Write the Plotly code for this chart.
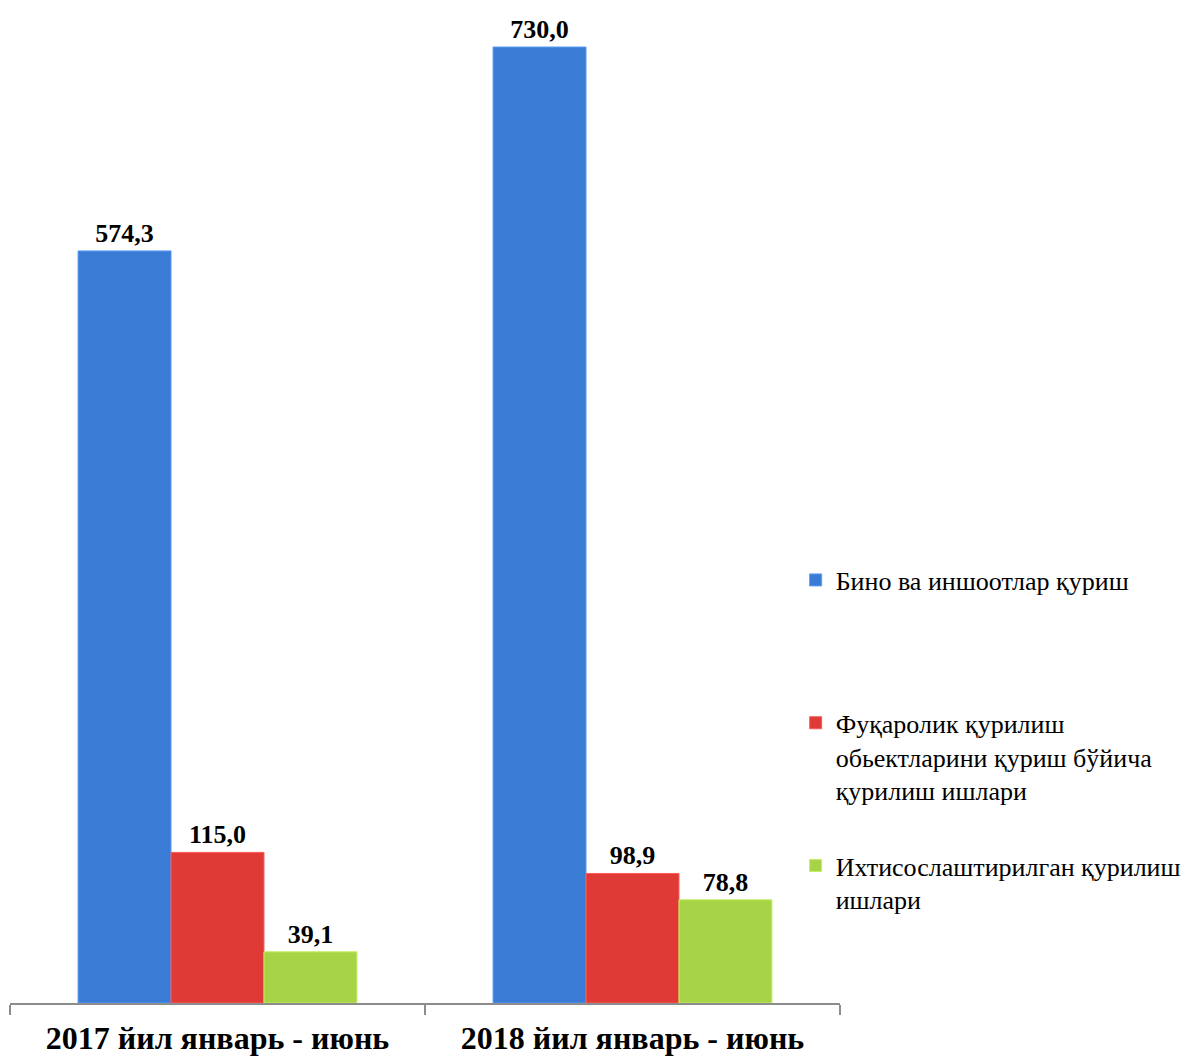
import plotly.graph_objects as go

categories = ["2017 йил январь - июнь", "2018 йил январь - июнь"]
series_names = [
    "Бино ва иншоотлар қуриш",
    "Фуқаролик қурилиш<br>обьектларини қуриш бўйича<br>қурилиш ишлари",
    "Ихтисослаштирилган қурилиш<br>ишлари",
]
bino = [574.3, 730.0]
fuqarolik = [115.0, 98.9]
ixtisos = [39.1, 78.8]

colors = ["#3a7bd5", "#e03a36", "#a6d446"]
edge_colors = ["#5a9cf5", "#ff5a55", "#c4f060"]
values = [bino, fuqarolik, ixtisos]
legends = ["legend", "legend2", "legend3"]

fig = go.Figure()
for name, vals, col, ecol, lg in zip(series_names, values, colors, edge_colors, legends):
    fig.add_trace(go.Bar(
        x=categories, y=vals, name=name,
        marker=dict(color=col, line=dict(color=ecol, width=1)),
        texttemplate="%{y:.1f}", textposition="outside",
        textfont=dict(family="Liberation Serif", size=26, color="black", weight="bold"),
        cliponaxis=False, legend=lg,
    ))

legend_font = dict(family="Liberation Serif", size=26, color="black")
common = dict(xref="container", yref="container", xanchor="left", yanchor="top",
              font=legend_font, valign="top", bgcolor="rgba(0,0,0,0)")

fig.update_layout(
    width=1184, height=1058,
    margin=dict(l=10, r=344, t=0, b=55, autoexpand=False),
    paper_bgcolor="white", plot_bgcolor="white",
    barmode="group", bargap=0.328, bargroupgap=0,
    separators=", ",
    showlegend=True,
    legend=dict(x=0.672, y=0.474, **common),
    legend2=dict(x=0.672, y=0.339, **common),
    legend3=dict(x=0.672, y=0.204, **common),
    xaxis=dict(
        showline=True, linecolor="#8c8c8c", linewidth=2,
        ticks="outside", tickson="boundaries", ticklen=10, tickcolor="#8c8c8c", tickwidth=2,
        tickfont=dict(family="Liberation Serif", size=32, color="black", weight="bold"),
        ticklabelstandoff=6,
        automargin=False, showgrid=False,
    ),
    yaxis=dict(range=[0, 765.9], visible=False, showgrid=False, zeroline=False),
)

fig.write_html("out.html", config={"displayModeBar": False},
               post_script="document.body.style.margin='0';")
